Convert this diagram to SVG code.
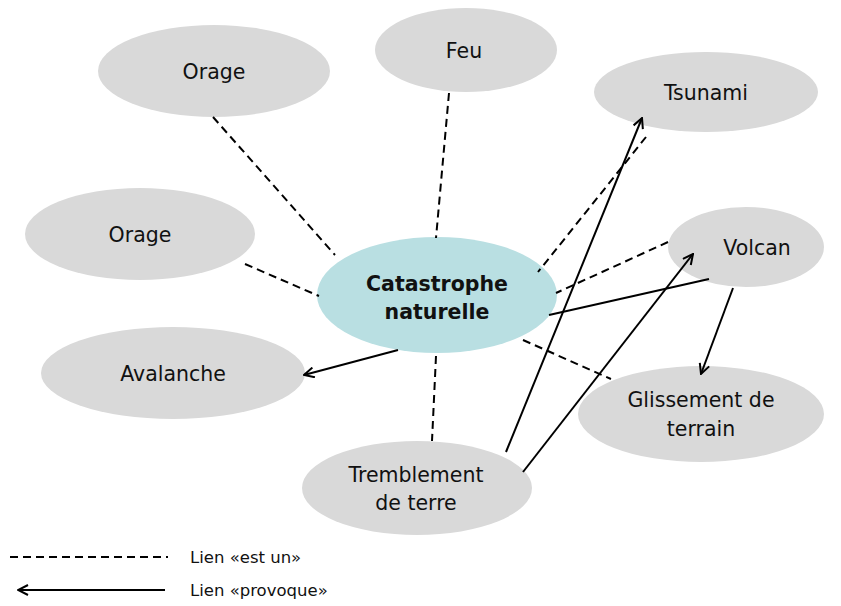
<svg xmlns="http://www.w3.org/2000/svg" width="841" height="606" viewBox="0 0 841 606">
  <style>
    .node { fill: #d9d9d9; }
    .core { fill: #b9dfe2; }
    .lbl { font-family: "DejaVu Sans", Verdana, sans-serif; font-size: 20.5px; fill: #111; text-anchor: middle; }
    .bold { font-weight: bold; }
    .legend { font-family: "DejaVu Sans", Verdana, sans-serif; font-size: 16.5px; fill: #111; }
    .isa { stroke: #000; stroke-width: 2; stroke-dasharray: 8 5; fill: none; }
    .cause { stroke: #000; stroke-width: 2; fill: none; }
  </style>
  <defs>
    <marker id="open" viewBox="0 0 12 12" refX="11" refY="6" markerWidth="12" markerHeight="12" markerUnits="userSpaceOnUse" orient="auto">
      <path d="M1,1 L11,6 L1,11" fill="none" stroke="#000" stroke-width="2"/>
    </marker>
  </defs>
  <rect width="841" height="606" fill="#fff"/>

  <g id="orage-top"><ellipse class="node" cx="214" cy="71" rx="116" ry="46"/><text class="lbl" x="214" y="79">Orage</text></g>
  <g id="feu"><ellipse class="node" cx="466" cy="50" rx="91" ry="42"/><text class="lbl" x="464" y="58">Feu</text></g>
  <g id="tsunami"><ellipse class="node" cx="706" cy="92" rx="112" ry="40"/><text class="lbl" x="706" y="100">Tsunami</text></g>
  <g id="orage-left"><ellipse class="node" cx="140" cy="234" rx="115" ry="46"/><text class="lbl" x="140" y="242">Orage</text></g>
  <g id="volcan"><ellipse class="node" cx="746" cy="247" rx="78" ry="40"/><text class="lbl" x="757" y="255">Volcan</text></g>
  <g id="avalanche"><ellipse class="node" cx="173" cy="373" rx="132" ry="46"/><text class="lbl" x="173" y="381">Avalanche</text></g>
  <g id="glissement"><ellipse class="node" cx="701" cy="414" rx="123" ry="48"/><text class="lbl" x="701" y="407">Glissement de</text><text class="lbl" x="701" y="436">terrain</text></g>
  <g id="tremblement"><ellipse class="node" cx="417" cy="488" rx="115" ry="47"/><text class="lbl" x="416" y="482">Tremblement</text><text class="lbl" x="416" y="510">de terre</text></g>
  <g id="catastrophe"><ellipse class="core" cx="437" cy="295" rx="120" ry="58"/><text class="lbl bold" x="437" y="291">Catastrophe</text><text class="lbl bold" x="437" y="319">naturelle</text></g>

  <g id="connectors">
    <!-- "est un" links -->
    <line class="isa" x1="213" y1="117" x2="335" y2="255"/>
    <line class="isa" x1="449" y1="93" x2="436" y2="238"/>
    <line class="isa" x1="646" y1="137" x2="538" y2="272"/>
    <line class="isa" x1="245" y1="264" x2="319" y2="296"/>
    <line class="isa" x1="668" y1="242" x2="556" y2="293"/>
    <line class="isa" x1="523" y1="340" x2="611" y2="379"/>
    <line class="isa" x1="436" y1="356" x2="432" y2="441"/>
    <!-- "provoque" links -->
    <line class="cause" x1="398" y1="350" x2="304" y2="375" marker-end="url(#open)"/>
    <line class="cause" x1="709" y1="279" x2="549" y2="315"/>
    <line class="cause" x1="733" y1="288" x2="701" y2="374" marker-end="url(#open)"/>
    <line class="cause" x1="506" y1="452" x2="642" y2="118" marker-end="url(#open)"/>
    <line class="cause" x1="523" y1="472" x2="693" y2="254" marker-end="url(#open)"/>
  </g>

  <g id="legend">
    <line class="isa" x1="10" y1="557" x2="168" y2="557"/>
    <text class="legend" x="190" y="563">Lien «est un»</text>
    <line class="cause" x1="165" y1="590" x2="18" y2="590" marker-end="url(#open)"/>
    <text class="legend" x="190" y="596">Lien «provoque»</text>
  </g>
</svg>
